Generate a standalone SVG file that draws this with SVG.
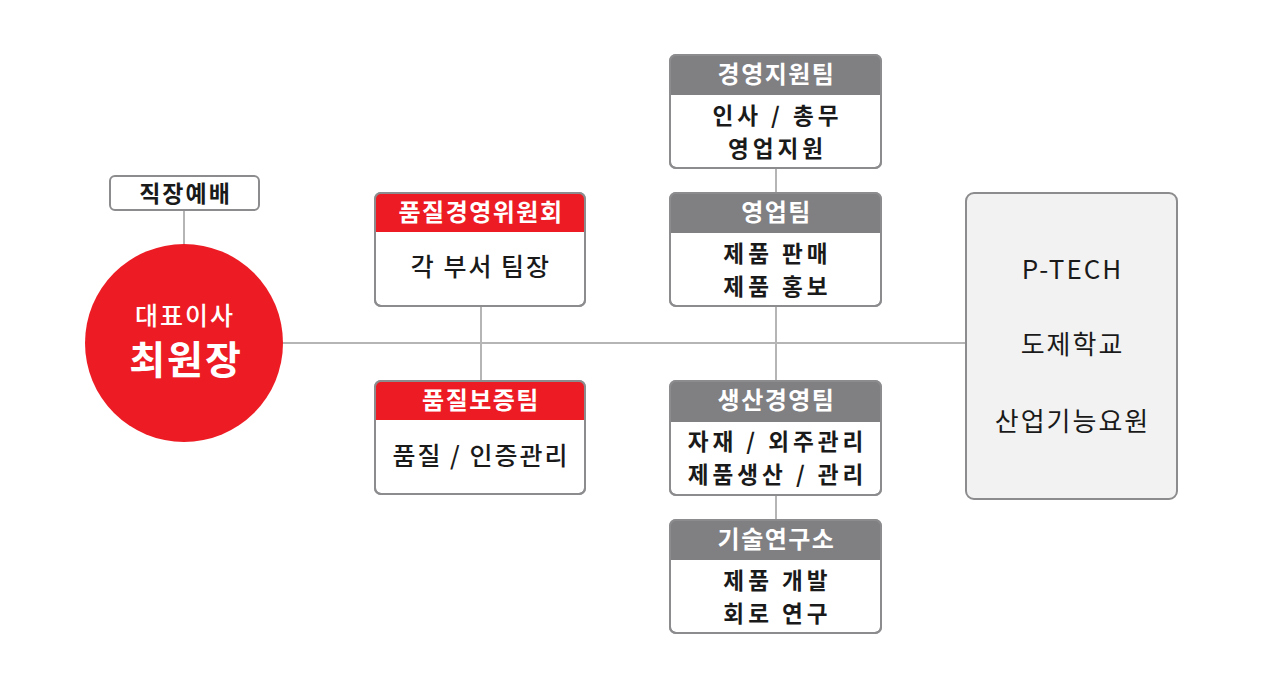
<svg xmlns="http://www.w3.org/2000/svg" width="1285" height="684" viewBox="0 0 1285 684">
<defs>
<style>
.box{fill:#ffffff;stroke:#8c8c8e;stroke-width:2}
.hdr-red{fill:#ed1c24}
.hdr-gray{fill:#808083}
.conn{stroke:#b5b5b5;stroke-width:2;fill:none}
.ht{font-family:"Noto Sans CJK KR","Noto Sans",sans-serif;font-size:24px;font-weight:700;fill:#ffffff;text-anchor:middle;letter-spacing:1.5px}
.bt{font-family:"Noto Sans CJK KR","Noto Sans",sans-serif;font-size:25px;font-weight:500;fill:#1a1a1a;text-anchor:middle;letter-spacing:2px}
.bt2{font-family:"Noto Sans CJK KR","Noto Sans",sans-serif;font-size:22.6px;font-weight:600;fill:#1a1a1a;text-anchor:middle;letter-spacing:4px}
.pt{font-family:"Noto Sans CJK KR","Noto Sans",sans-serif;font-size:26px;font-weight:400;fill:#1a1a1a;text-anchor:middle;letter-spacing:2px}
</style>
<clipPath id="c1"><rect x="375" y="193" width="210" height="113" rx="6"/></clipPath>
<clipPath id="c2"><rect x="375" y="381" width="210" height="113" rx="6"/></clipPath>
<clipPath id="c3"><rect x="670" y="55" width="211" height="113" rx="6"/></clipPath>
<clipPath id="c4"><rect x="670" y="193" width="211" height="113" rx="6"/></clipPath>
<clipPath id="c5"><rect x="670" y="381" width="211" height="114" rx="6"/></clipPath>
<clipPath id="c6"><rect x="670" y="520" width="211" height="113" rx="6"/></clipPath>
</defs>
<rect width="1285" height="684" fill="#ffffff"/>
<g id="connectors">
<line class="conn" x1="184" y1="210" x2="184" y2="246"/>
<line class="conn" x1="282" y1="343" x2="966" y2="343"/>
<line class="conn" x1="481" y1="306" x2="481" y2="381"/>
<line class="conn" x1="776" y1="168" x2="776" y2="193"/>
<line class="conn" x1="776" y1="306" x2="776" y2="381"/>
<line class="conn" x1="776" y1="495" x2="776" y2="520"/>
</g>
<g id="worship">
<rect class="box" x="110" y="176" width="149" height="34" rx="5"/>
<text class="bt" x="185.5" y="202" style="font-weight:700;font-size:23px">직장예배</text>
</g>
<g id="ceo">
<circle cx="184" cy="343" r="99" fill="#ed1c24"/>
<text x="185" y="325" text-anchor="middle" font-family="'Noto Sans CJK KR','Noto Sans',sans-serif" font-size="25" font-weight="500" letter-spacing="2" fill="#ffffff">대표이사</text>
<text x="186" y="374" text-anchor="middle" font-family="'Noto Sans CJK KR','Noto Sans',sans-serif" font-size="39" font-weight="700" letter-spacing="2" fill="#ffffff">최원장</text>
</g>
<g id="quality-committee">
<rect class="box" x="375" y="193" width="210" height="113" rx="6"/>
<rect class="hdr-red" x="375" y="193" width="210" height="39" clip-path="url(#c1)"/>
<rect x="375" y="193" width="210" height="113" rx="6" fill="none" stroke="#8c8c8e" stroke-width="2"/>
<text class="ht" x="481" y="221">품질경영위원회</text>
<text class="bt" x="481" y="276">각 부서 팀장</text>
</g>
<g id="quality-assurance">
<rect class="box" x="375" y="381" width="210" height="113" rx="6"/>
<rect class="hdr-red" x="375" y="381" width="210" height="39" clip-path="url(#c2)"/>
<rect x="375" y="381" width="210" height="113" rx="6" fill="none" stroke="#8c8c8e" stroke-width="2"/>
<text class="ht" x="481" y="409">품질보증팀</text>
<text class="bt" x="481" y="465">품질 / 인증관리</text>
</g>
<g id="management-support">
<rect class="box" x="670" y="55" width="211" height="113" rx="6"/>
<rect class="hdr-gray" x="670" y="55" width="211" height="40" clip-path="url(#c3)"/>
<rect x="670" y="55" width="211" height="113" rx="6" fill="none" stroke="#8c8c8e" stroke-width="2"/>
<text class="ht" x="776.5" y="83">경영지원팀</text>
<text class="bt2" x="777.5" y="123.5">인사 / 총무</text>
<text class="bt2" x="777.5" y="156.5">영업지원</text>
</g>
<g id="sales">
<rect class="box" x="670" y="193" width="211" height="113" rx="6"/>
<rect class="hdr-gray" x="670" y="193" width="211" height="40" clip-path="url(#c4)"/>
<rect x="670" y="193" width="211" height="113" rx="6" fill="none" stroke="#8c8c8e" stroke-width="2"/>
<text class="ht" x="776.5" y="221">영업팀</text>
<text class="bt2" x="777.5" y="261.5">제품 판매</text>
<text class="bt2" x="777.5" y="294.5">제품 홍보</text>
</g>
<g id="production">
<rect class="box" x="670" y="381" width="211" height="114" rx="6"/>
<rect class="hdr-gray" x="670" y="381" width="211" height="41" clip-path="url(#c5)"/>
<rect x="670" y="381" width="211" height="114" rx="6" fill="none" stroke="#8c8c8e" stroke-width="2"/>
<text class="ht" x="776.5" y="409">생산경영팀</text>
<text class="bt2" x="777.5" y="449.5">자재 / 외주관리</text>
<text class="bt2" x="777.5" y="482.5">제품생산 / 관리</text>
</g>
<g id="rnd">
<rect class="box" x="670" y="520" width="211" height="113" rx="6"/>
<rect class="hdr-gray" x="670" y="520" width="211" height="40" clip-path="url(#c6)"/>
<rect x="670" y="520" width="211" height="113" rx="6" fill="none" stroke="#8c8c8e" stroke-width="2"/>
<text class="ht" x="776.5" y="548">기술연구소</text>
<text class="bt2" x="777.5" y="588.5">제품 개발</text>
<text class="bt2" x="777.5" y="621.5">회로 연구</text>
</g>
<g id="ptech">
<rect x="966" y="193" width="211" height="306" rx="8" fill="#f2f2f2" stroke="#8c8c8e" stroke-width="2"/>
<text class="pt" x="1072.5" y="279">P-TECH</text>
<text class="pt" x="1072.5" y="354">도제학교</text>
<text class="pt" x="1072.5" y="431">산업기능요원</text>
</g>
</svg>
